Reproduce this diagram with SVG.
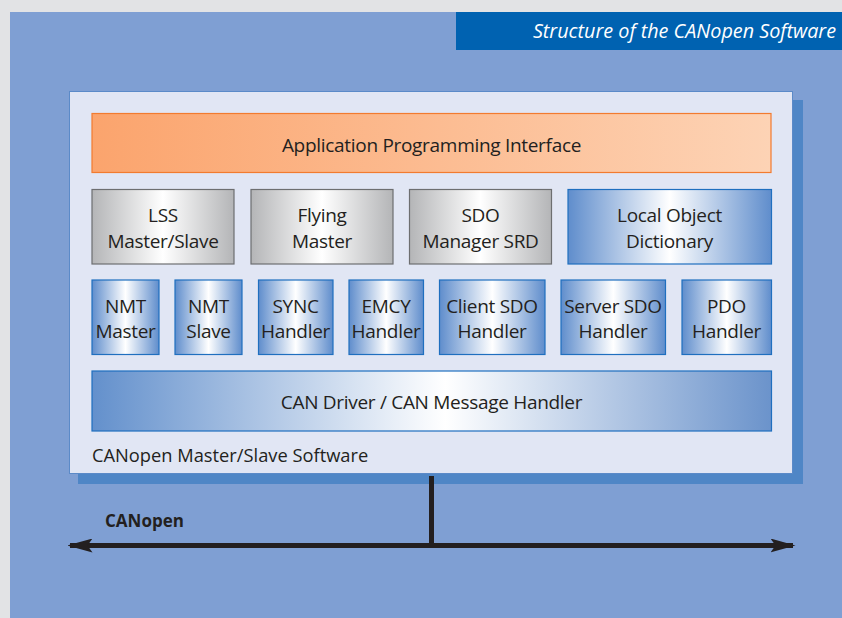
<svg xmlns="http://www.w3.org/2000/svg" width="842" height="618" viewBox="0 0 842 618">
  <style>
    text { font-family: "Open Sans", "Liberation Sans", sans-serif; fill: #231f20; }
    .lbl { font-size: 19px; letter-spacing: -0.3px; text-anchor: middle; }
    .gray { fill: url(#gGray); stroke: #6d6e70; stroke-width: 1.2; }
    .blue { fill: url(#gBlue); stroke: #1f6fbf; stroke-width: 1.2; }
    .bus { fill: none; stroke: #231f20; stroke-width: 5; }
  </style>
  <defs>
    <linearGradient id="gApi" x1="0" y1="0" x2="1" y2="0">
      <stop offset="0" stop-color="#fba46d"/>
      <stop offset="1" stop-color="#fdd3b5"/>
    </linearGradient>
    <linearGradient id="gGray" x1="0" y1="0" x2="1" y2="0">
      <stop offset="0" stop-color="#b4b5b7"/>
      <stop offset="0.5" stop-color="#ffffff"/>
      <stop offset="1" stop-color="#b4b5b7"/>
    </linearGradient>
    <linearGradient id="gBlue" x1="0" y1="0" x2="1" y2="0">
      <stop offset="0" stop-color="#5f8dcc"/>
      <stop offset="0.5" stop-color="#ffffff"/>
      <stop offset="1" stop-color="#5f8dcc"/>
    </linearGradient>
    <linearGradient id="gDrv" x1="0" y1="0" x2="1" y2="0">
      <stop offset="0" stop-color="#6390cc"/>
      <stop offset="0.52" stop-color="#ffffff"/>
      <stop offset="1" stop-color="#6b93cb"/>
    </linearGradient>
    <marker id="arrow" viewBox="0 0 10 10" refX="9" refY="5" markerWidth="5" markerHeight="2.8" orient="auto-start-reverse" markerUnits="strokeWidth" preserveAspectRatio="none">
      <path d="M0,0 L10,5 L0,10 L2,5 Z" fill="#231f20"/>
    </marker>
  </defs>

  <!-- page background -->
  <rect x="0" y="0" width="842" height="618" fill="#e2e3e5"/>
  <rect x="10" y="12" width="832" height="606" fill="#7f9fd3"/>

  <!-- title bar -->
  <g id="title">
    <rect x="456" y="12" width="386" height="38" fill="#0062b1"/>
    <text x="836" y="38" font-size="19.8" font-style="italic" text-anchor="end" style="fill:#ffffff">Structure of the CANopen Software</text>
  </g>

  <!-- software panel with drop shadow -->
  <g id="panel">
    <rect x="78" y="100" width="725" height="384" fill="#4f86c6"/>
    <rect x="69.5" y="91.5" width="723" height="382" fill="#e1e6f4" stroke="#5b8ac8" stroke-width="1"/>
    <text x="92" y="462" font-size="18.3">CANopen Master/Slave Software</text>
  </g>

  <g id="api">
    <rect x="92" y="113.5" width="679" height="59" fill="url(#gApi)" stroke="#f27b2f" stroke-width="1.2"/>
    <text class="lbl" x="431.5" y="152">Application Programming Interface</text>
  </g>

  <g id="lss">
    <rect class="gray" x="92" y="189.5" width="142" height="74.5"/>
    <text class="lbl" x="163" y="222">LSS</text>
    <text class="lbl" x="163" y="248">Master/Slave</text>
  </g>
  <g id="flying-master">
    <rect class="gray" x="251" y="189.5" width="142" height="74.5"/>
    <text class="lbl" x="322" y="222">Flying</text>
    <text class="lbl" x="322" y="248">Master</text>
  </g>
  <g id="sdo-manager">
    <rect class="gray" x="409.5" y="189.5" width="142" height="74.5"/>
    <text class="lbl" x="480.5" y="222">SDO</text>
    <text class="lbl" x="480.5" y="248">Manager SRD</text>
  </g>
  <g id="object-dictionary">
    <rect class="blue" x="568" y="189.5" width="203.5" height="74.5"/>
    <text class="lbl" x="669.5" y="222">Local Object</text>
    <text class="lbl" x="669.5" y="248">Dictionary</text>
  </g>

  <g id="nmt-master">
    <rect class="blue" x="92" y="280" width="67" height="74.5"/>
    <text class="lbl" x="125.5" y="313">NMT</text>
    <text class="lbl" x="125.5" y="338">Master</text>
  </g>
  <g id="nmt-slave">
    <rect class="blue" x="175" y="280" width="67" height="74.5"/>
    <text class="lbl" x="208.5" y="313">NMT</text>
    <text class="lbl" x="208.5" y="338">Slave</text>
  </g>
  <g id="sync-handler">
    <rect class="blue" x="258.5" y="280" width="74.5" height="74.5"/>
    <text class="lbl" x="295.5" y="313">SYNC</text>
    <text class="lbl" x="295.5" y="338">Handler</text>
  </g>
  <g id="emcy-handler">
    <rect class="blue" x="349" y="280" width="74.5" height="74.5"/>
    <text class="lbl" x="386" y="313">EMCY</text>
    <text class="lbl" x="386" y="338">Handler</text>
  </g>
  <g id="client-sdo">
    <rect class="blue" x="439.5" y="280" width="105.5" height="74.5"/>
    <text class="lbl" x="492" y="313">Client SDO</text>
    <text class="lbl" x="492" y="338">Handler</text>
  </g>
  <g id="server-sdo">
    <rect class="blue" x="561" y="280" width="104.5" height="74.5"/>
    <text class="lbl" x="613" y="313">Server SDO</text>
    <text class="lbl" x="613" y="338">Handler</text>
  </g>
  <g id="pdo-handler">
    <rect class="blue" x="682" y="280" width="89.5" height="74.5"/>
    <text class="lbl" x="726.5" y="313">PDO</text>
    <text class="lbl" x="726.5" y="338">Handler</text>
  </g>

  <g id="can-driver">
    <rect x="92" y="371" width="679.5" height="60" fill="url(#gDrv)" stroke="#1f6fbf" stroke-width="1.2"/>
    <text class="lbl" x="431.5" y="409">CAN Driver / CAN Message Handler</text>
  </g>

  <!-- bus connection -->
  <g id="connectors">
    <line class="bus" x1="431.5" y1="476" x2="431.5" y2="546"/>
    <line class="bus" x1="70" y1="545.5" x2="793" y2="545.5" marker-start="url(#arrow)" marker-end="url(#arrow)"/>
  </g>
  <g id="bus-label">
    <text x="105" y="527" font-size="17" font-weight="bold">CANopen</text>
  </g>
</svg>
